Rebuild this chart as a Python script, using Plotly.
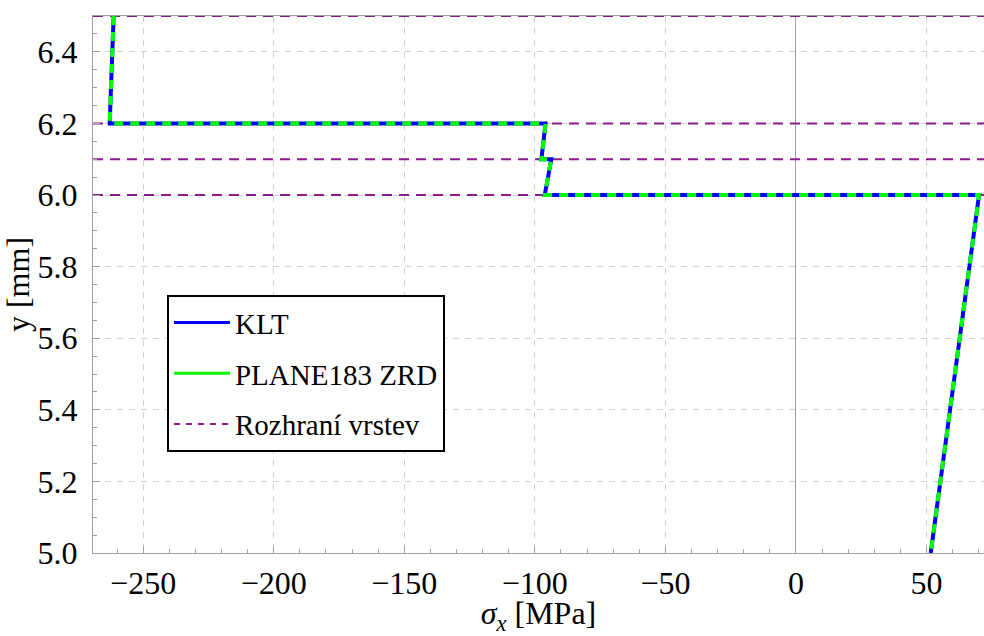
import plotly.graph_objects as go

# Stress profile sigma_x through the thickness (y in mm)
y_klt = [6.5, 6.2, 6.2, 6.1, 6.1, 6.0, 6.0, 5.0]
sx_klt = [-261.3, -262.8, -95.9, -97.5, -93.7, -96.2, 70.1, 51.6]

y_zrd = [6.5, 6.2, 6.2, 6.1, 6.1, 6.0, 6.0, 5.0]
sx_zrd = [-261.3, -262.8, -95.9, -97.5, -93.7, -96.2, 70.1, 51.6]

# Layer interfaces
interfaces = [6.0, 6.1, 6.2, 6.5]

x_range = [-269.2, 72.0]
y_range = [5.0, 6.5]

x_ticks = [-250, -200, -150, -100, -50, 0, 50]
y_ticks = [5.0, 5.2, 5.4, 5.6, 5.8, 6.0, 6.2, 6.4]
y_ticktext = ["5.0", "5.2", "5.4", "5.6", "5.8", "6.0", "6.2", "6.4"]

names = ["KLT", "PLANE183 ZRD", "Rozhraní vrstev"]

BLUE = "#0000ff"
GREEN = "#00ff00"
PURPLE = "#8b1a8b"
FONT = "Times New Roman"

fig = go.Figure()

# interface lines
ix, iy = [], []
for lvl in interfaces:
    ix += [x_range[0], x_range[1], None]
    iy += [lvl, lvl, None]
fig.add_trace(go.Scatter(x=ix, y=iy, mode="lines", showlegend=False,
                         line=dict(color=PURPLE, width=2, dash="10px,7px"),
                         hoverinfo="skip"))

# solutions
fig.add_trace(go.Scatter(x=sx_klt, y=y_klt, mode="lines", showlegend=False,
                         line=dict(color=BLUE, width=4)))
fig.add_trace(go.Scatter(x=sx_zrd, y=y_zrd, mode="lines", showlegend=False,
                         line=dict(color=GREEN, width=4, dash="9px,7px")))

# legend entries
fig.add_trace(go.Scatter(x=[None], y=[None], mode="lines", name=names[0],
                         legendgroup="a", line=dict(color=BLUE, width=3)))
fig.add_trace(go.Scatter(x=[None], y=[None], mode="lines", name=names[1],
                         legendgroup="b", line=dict(color=GREEN, width=3)))
fig.add_trace(go.Scatter(x=[None], y=[None], mode="lines", name=names[2],
                         legendgroup="c", line=dict(color=PURPLE, width=2, dash="6px,6px")))

tick_font = dict(family=FONT, size=32, color="black")
title_font = dict(family=FONT, size=32, color="black")

axis_common = dict(
    showline=True, linecolor="#a0a0a0", linewidth=1, mirror=True,
    showgrid=True, gridcolor="#d0d0d0", griddash="6px,6px", gridwidth=1,
    ticks="inside", ticklen=7, tickcolor="#a0a0a0", tickwidth=1,
    tickfont=tick_font,
)

fig.update_xaxes(
    range=x_range, tickvals=x_ticks, **axis_common,
    zeroline=True, zerolinecolor="#a0a0a0", zerolinewidth=1,
    minor=dict(dtick=10, tick0=0, ticks="inside", ticklen=4, tickcolor="#a0a0a0", showgrid=False),
    ticklabelstandoff=2,
    title=dict(text="<i>σ</i><sub><i>x</i></sub> [MPa]", font=title_font, standoff=10),
)
fig.update_yaxes(
    range=y_range, tickvals=y_ticks, ticktext=y_ticktext, **axis_common,
    zeroline=False,
    minor=dict(dtick=0.05, tick0=0, ticks="inside", ticklen=4, tickcolor="#a0a0a0", showgrid=False),
    ticklabelstandoff=8,
    title=dict(text="y [mm]", font=title_font, standoff=6),
)

fig.update_layout(
    width=984, height=636,
    font=dict(family=FONT, size=29, color="black"),
    margin=dict(l=93, r=0, t=16, b=83),
    paper_bgcolor="white", plot_bgcolor="white",
    legend=dict(
        x=0.083, y=0.48, xanchor="left", yanchor="top",
        bgcolor="white", bordercolor="black", borderwidth=2,
        font=dict(family=FONT, size=29, color="black"),
        traceorder="grouped", tracegroupgap=10, itemwidth=56,
    ),
)

fig.write_html("out.html")
